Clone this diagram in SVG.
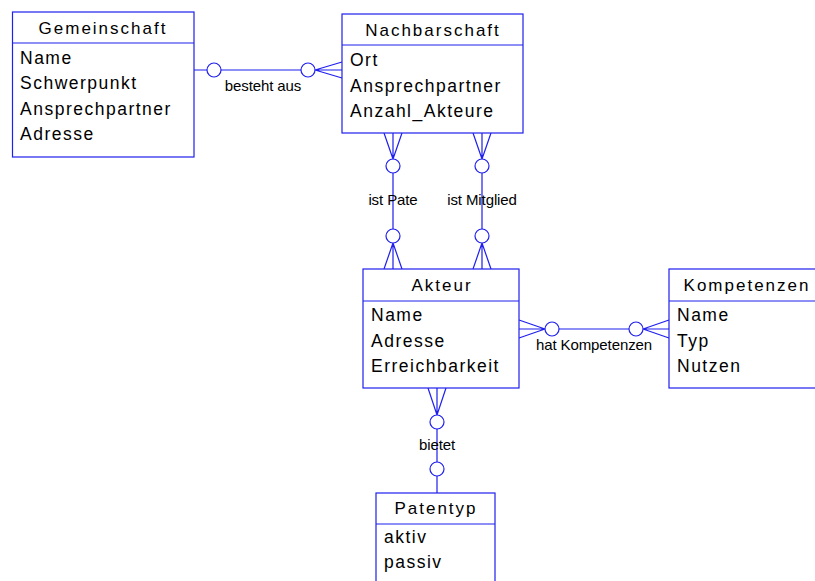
<svg xmlns="http://www.w3.org/2000/svg" width="815" height="581" viewBox="0 0 815 581">
<style>
.box{fill:#fff;stroke:#1f1fef;stroke-width:1.2}
.ln{fill:none;stroke:#1f1fef;stroke-width:1.2}
.ci{fill:#fff;stroke:#1f1fef;stroke-width:1.2}
.t{font-family:"Liberation Sans",Arial,sans-serif;font-size:17.5px;letter-spacing:1.5px;fill:#000}
.h{font-family:"Liberation Sans",Arial,sans-serif;font-size:17px;letter-spacing:2px;fill:#000;text-anchor:middle}
.l{font-family:"Liberation Sans",Arial,sans-serif;font-size:15px;letter-spacing:-0.1px;fill:#000;text-anchor:middle}
</style>
<rect width="815" height="581" fill="#fff"/>
<g id="connectors">
  <g id="besteht_aus">
    <path class="ln" d="M194,70 H207 M221,70 H301 M315,70 H342 M315,70 L342,62 M315,70 L342,78"/>
    <circle class="ci" cx="214" cy="70" r="7"/>
    <circle class="ci" cx="308" cy="70" r="7"/>
    <text class="l" x="263" y="91">besteht aus</text>
  </g>
  <g id="ist_pate">
    <path class="ln" d="M393,133 V159 M384,133 L393,159 M402,133 L393,159 M393,173 V229 M393,243 V269 M393,243 L384,269 M393,243 L402,269"/>
    <circle class="ci" cx="393" cy="166" r="7"/>
    <circle class="ci" cx="393" cy="236" r="7"/>
    <text class="l" x="393" y="205">ist Pate</text>
  </g>
  <g id="ist_mitglied">
    <path class="ln" d="M482,133 V159 M473,133 L482,159 M491,133 L482,159 M482,173 V229 M482,243 V269 M482,243 L473,269 M482,243 L491,269"/>
    <circle class="ci" cx="482" cy="166" r="7"/>
    <circle class="ci" cx="482" cy="236" r="7"/>
    <text class="l" x="482" y="205">ist Mitglied</text>
  </g>
  <g id="hat_kompetenzen">
    <path class="ln" d="M519,329 H545 M519,320 L545,329 M519,338 L545,329 M559,329 H629 M643,329 H669 M643,329 L669,320 M643,329 L669,338"/>
    <circle class="ci" cx="552" cy="329" r="7"/>
    <circle class="ci" cx="636" cy="329" r="7"/>
    <text class="l" x="594" y="350">hat Kompetenzen</text>
  </g>
  <g id="bietet">
    <path class="ln" d="M437,388 V415 M428,388 L437,415 M446,388 L437,415 M437,429 V462 M437,476 V493"/>
    <circle class="ci" cx="437" cy="422" r="7"/>
    <circle class="ci" cx="437" cy="469" r="7"/>
    <text class="l" x="437" y="450">bietet</text>
  </g>
</g>
<g id="Gemeinschaft">
  <rect class="box" x="12.5" y="12" width="181.5" height="145"/>
  <line class="ln" x1="12.5" y1="43" x2="194" y2="43"/>
  <text class="h" x="103" y="34">Gemeinschaft</text>
  <text class="t" x="20" y="63.5">Name</text>
  <text class="t" x="20" y="89">Schwerpunkt</text>
  <text class="t" x="20" y="115">Ansprechpartner</text>
  <text class="t" x="20" y="140">Adresse</text>
</g>
<g id="Nachbarschaft">
  <rect class="box" x="342" y="14" width="181" height="119"/>
  <line class="ln" x1="342" y1="45" x2="523" y2="45"/>
  <text class="h" x="433" y="36">Nachbarschaft</text>
  <text class="t" x="350" y="66">Ort</text>
  <text class="t" x="350" y="92">Ansprechpartner</text>
  <text class="t" x="350" y="117">Anzahl_Akteure</text>
</g>
<g id="Akteur">
  <rect class="box" x="363" y="269" width="156" height="119"/>
  <line class="ln" x1="363" y1="301" x2="519" y2="301"/>
  <text class="h" x="442" y="291">Akteur</text>
  <text class="t" x="371" y="321">Name</text>
  <text class="t" x="371" y="347">Adresse</text>
  <text class="t" x="371" y="372">Erreichbarkeit</text>
</g>
<g id="Kompetenzen">
  <rect class="box" x="669" y="269" width="160" height="119"/>
  <line class="ln" x1="669" y1="301" x2="829" y2="301"/>
  <text class="h" x="747" y="291">Kompetenzen</text>
  <text class="t" x="677" y="321">Name</text>
  <text class="t" x="677" y="347">Typ</text>
  <text class="t" x="677" y="372">Nutzen</text>
</g>
<g id="Patentyp">
  <rect class="box" x="376" y="493" width="119" height="100"/>
  <line class="ln" x1="376" y1="524" x2="495" y2="524"/>
  <text class="h" x="436" y="514">Patentyp</text>
  <text class="t" x="384" y="543">aktiv</text>
  <text class="t" x="384" y="568">passiv</text>
</g>
</svg>
